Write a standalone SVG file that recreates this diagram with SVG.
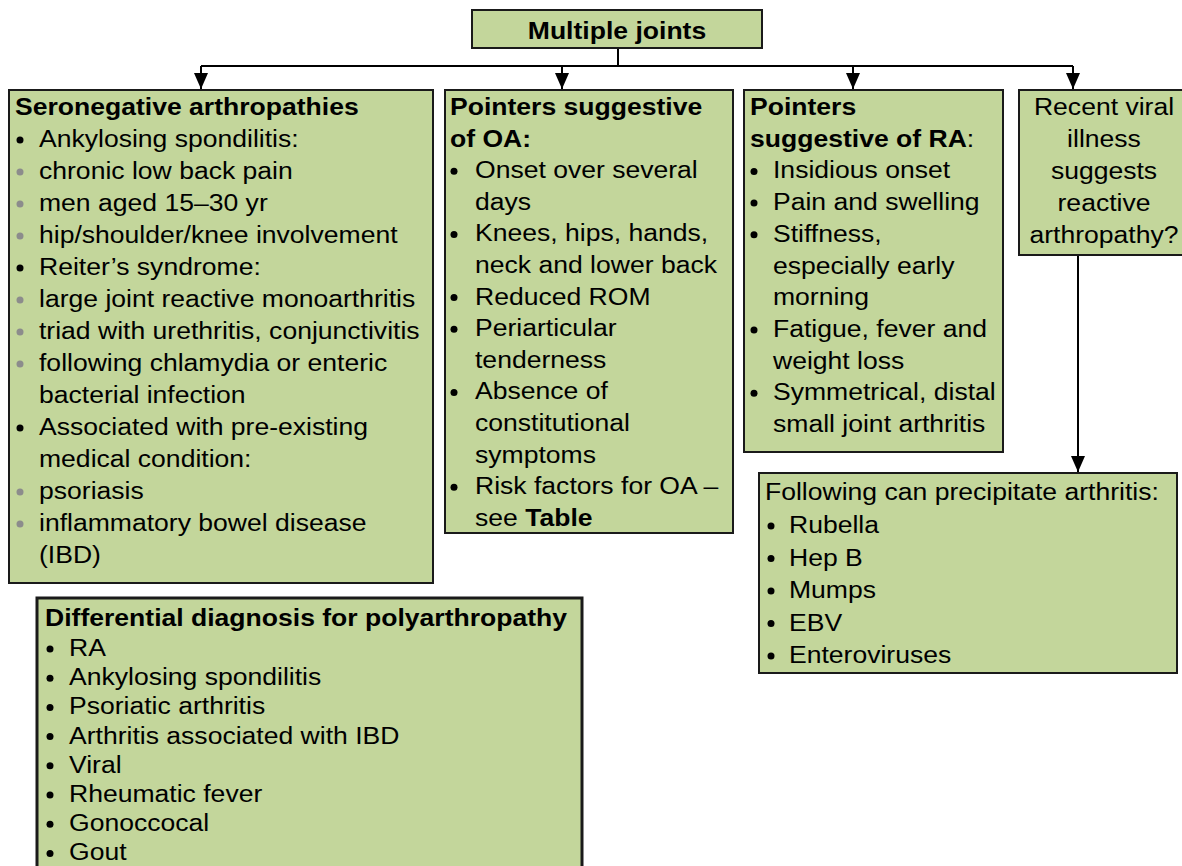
<svg xmlns="http://www.w3.org/2000/svg" width="1182" height="866" viewBox="0 0 1182 866">
<style>
.box{fill:#c3d69b;stroke:#1a1a1a;stroke-width:2}
.t{font-family:"Liberation Sans",Arial,sans-serif;font-size:23.5px;fill:#000}
.b{font-weight:bold}
.c{text-anchor:middle}
.bk{fill:#000}
.gy{fill:#8c8c8c}
.con{fill:none;stroke:#000;stroke-width:2}
</style>
<defs>
<marker id="ah" viewBox="0 0 16 14" refX="16" refY="7" markerWidth="16" markerHeight="14" orient="auto" markerUnits="userSpaceOnUse">
<path d="M0 0 L16 7 L0 14 Z" fill="#000"/>
</marker>
</defs>
<rect width="1182" height="866" fill="#fff"/>

<g id="connectors">
<path class="con" d="M618 48 V66 M201 66 H1073"/>
<path class="con" d="M201 66 V89" marker-end="url(#ah)"/>
<path class="con" d="M562 66 V89" marker-end="url(#ah)"/>
<path class="con" d="M853 66 V89" marker-end="url(#ah)"/>
<path class="con" d="M1073 66 V89" marker-end="url(#ah)"/>
<path class="con" d="M1078 255 V472" marker-end="url(#ah)"/>
</g>

<g id="multiple-joints">
<rect class="box" x="472" y="10" width="290" height="38"/>
<text class="t b c" transform="translate(617 39) scale(1.13 1)">Multiple joints</text>
</g>

<g id="seronegative">
<rect class="box" x="9" y="90" width="424" height="493"/>
<text class="t b" transform="translate(15 115) scale(1.13 1)">Seronegative arthropathies</text>
<circle class="bk" cx="20" cy="140" r="3.5"/>
<text class="t" transform="translate(39 147) scale(1.13 1)">Ankylosing spondilitis:</text>
<circle class="gy" cx="20" cy="172" r="3.5"/>
<text class="t" transform="translate(39 179) scale(1.13 1)">chronic low back pain</text>
<circle class="gy" cx="20" cy="204" r="3.5"/>
<text class="t" transform="translate(39 211) scale(1.13 1)">men aged 15–30 yr</text>
<circle class="gy" cx="20" cy="236" r="3.5"/>
<text class="t" transform="translate(39 243) scale(1.13 1)">hip/shoulder/knee involvement</text>
<circle class="bk" cx="20" cy="268" r="3.5"/>
<text class="t" transform="translate(39 275) scale(1.13 1)">Reiter’s syndrome:</text>
<circle class="gy" cx="20" cy="300" r="3.5"/>
<text class="t" transform="translate(39 307) scale(1.13 1)">large joint reactive monoarthritis</text>
<circle class="gy" cx="20" cy="332" r="3.5"/>
<text class="t" transform="translate(39 339) scale(1.13 1)">triad with urethritis, conjunctivitis</text>
<circle class="gy" cx="20" cy="364" r="3.5"/>
<text class="t" transform="translate(39 371) scale(1.13 1)">following chlamydia or enteric</text>
<text class="t" transform="translate(39 403) scale(1.13 1)">bacterial infection</text>
<circle class="bk" cx="20" cy="428" r="3.5"/>
<text class="t" transform="translate(39 435) scale(1.13 1)">Associated with pre-existing</text>
<text class="t" transform="translate(39 467) scale(1.13 1)">medical condition:</text>
<circle class="gy" cx="20" cy="492" r="3.5"/>
<text class="t" transform="translate(39 499) scale(1.13 1)">psoriasis</text>
<circle class="gy" cx="20" cy="524" r="3.5"/>
<text class="t" transform="translate(39 531) scale(1.13 1)">inflammatory bowel disease</text>
<text class="t" transform="translate(39 563) scale(1.13 1)">(IBD)</text>
</g>

<g id="oa">
<rect class="box" x="445" y="90" width="288" height="443"/>
<text class="t b" transform="translate(450 115) scale(1.13 1)">Pointers suggestive</text>
<text class="t b" transform="translate(450 146.6) scale(1.13 1)">of OA:</text>
<circle class="bk" cx="454" cy="171.2" r="3.5"/>
<text class="t" transform="translate(475 178.2) scale(1.13 1)">Onset over several</text>
<text class="t" transform="translate(475 209.8) scale(1.13 1)">days</text>
<circle class="bk" cx="454" cy="234.4" r="3.5"/>
<text class="t" transform="translate(475 241.4) scale(1.13 1)">Knees, hips, hands,</text>
<text class="t" transform="translate(475 273) scale(1.13 1)">neck and lower back</text>
<circle class="bk" cx="454" cy="297.6" r="3.5"/>
<text class="t" transform="translate(475 304.6) scale(1.13 1)">Reduced ROM</text>
<circle class="bk" cx="454" cy="329.2" r="3.5"/>
<text class="t" transform="translate(475 336.2) scale(1.13 1)">Periarticular</text>
<text class="t" transform="translate(475 367.8) scale(1.13 1)">tenderness</text>
<circle class="bk" cx="454" cy="392.4" r="3.5"/>
<text class="t" transform="translate(475 399.4) scale(1.13 1)">Absence of</text>
<text class="t" transform="translate(475 431) scale(1.13 1)">constitutional</text>
<text class="t" transform="translate(475 462.6) scale(1.13 1)">symptoms</text>
<circle class="bk" cx="454" cy="487.2" r="3.5"/>
<text class="t" transform="translate(475 494.2) scale(1.13 1)">Risk factors for OA –</text>
<text class="t" transform="translate(475 525.8) scale(1.13 1)">see <tspan class="b">Table</tspan></text>
</g>

<g id="ra">
<rect class="box" x="744" y="90" width="259" height="362"/>
<text class="t b" transform="translate(750 115) scale(1.13 1)">Pointers</text>
<text class="t" transform="translate(750 146.7) scale(1.13 1)"><tspan class="b">suggestive of RA</tspan>:</text>
<circle class="bk" cx="754" cy="171.4" r="3.5"/>
<text class="t" transform="translate(773 178.4) scale(1.13 1)">Insidious onset</text>
<circle class="bk" cx="754" cy="203.1" r="3.5"/>
<text class="t" transform="translate(773 210.1) scale(1.13 1)">Pain and swelling</text>
<circle class="bk" cx="754" cy="234.8" r="3.5"/>
<text class="t" transform="translate(773 241.8) scale(1.13 1)">Stiffness,</text>
<text class="t" transform="translate(773 273.5) scale(1.13 1)">especially early</text>
<text class="t" transform="translate(773 305.2) scale(1.13 1)">morning</text>
<circle class="bk" cx="754" cy="329.9" r="3.5"/>
<text class="t" transform="translate(773 336.9) scale(1.13 1)">Fatigue, fever and</text>
<text class="t" transform="translate(773 368.6) scale(1.13 1)">weight loss</text>
<circle class="bk" cx="754" cy="393.3" r="3.5"/>
<text class="t" transform="translate(773 400.3) scale(1.13 1)">Symmetrical, distal</text>
<text class="t" transform="translate(773 432) scale(1.13 1)">small joint arthritis</text>
</g>

<g id="viral">
<rect class="box" x="1019" y="90" width="172" height="165"/>
<text class="t c" transform="translate(1104 115) scale(1.13 1)">Recent viral</text>
<text class="t c" transform="translate(1104 147) scale(1.13 1)">illness</text>
<text class="t c" transform="translate(1104 179) scale(1.13 1)">suggests</text>
<text class="t c" transform="translate(1104 211) scale(1.13 1)">reactive</text>
<text class="t c" transform="translate(1104 243) scale(1.13 1)">arthropathy?</text>
</g>

<g id="precipitate">
<rect class="box" x="759" y="473" width="418" height="200"/>
<text class="t" transform="translate(765 500) scale(1.13 1)">Following can precipitate arthritis:</text>
<circle class="bk" cx="771" cy="526" r="3.5"/>
<text class="t" transform="translate(789 533) scale(1.13 1)">Rubella</text>
<circle class="bk" cx="771" cy="558.5" r="3.5"/>
<text class="t" transform="translate(789 565.5) scale(1.13 1)">Hep B</text>
<circle class="bk" cx="771" cy="591" r="3.5"/>
<text class="t" transform="translate(789 598) scale(1.13 1)">Mumps</text>
<circle class="bk" cx="771" cy="623.5" r="3.5"/>
<text class="t" transform="translate(789 630.5) scale(1.13 1)">EBV</text>
<circle class="bk" cx="771" cy="656" r="3.5"/>
<text class="t" transform="translate(789 663) scale(1.13 1)">Enteroviruses</text>
</g>

<g id="differential">
<rect class="box" x="37" y="598" width="545" height="290" style="stroke-width:3"/>
<text class="t b" transform="translate(45 626) scale(1.13 1)">Differential diagnosis for polyarthropathy</text>
<circle class="bk" cx="50" cy="649" r="3.5"/>
<text class="t" transform="translate(69 656) scale(1.13 1)">RA</text>
<circle class="bk" cx="50" cy="678.2" r="3.5"/>
<text class="t" transform="translate(69 685.2) scale(1.13 1)">Ankylosing spondilitis</text>
<circle class="bk" cx="50" cy="707.4" r="3.5"/>
<text class="t" transform="translate(69 714.4) scale(1.13 1)">Psoriatic arthritis</text>
<circle class="bk" cx="50" cy="736.6" r="3.5"/>
<text class="t" transform="translate(69 743.6) scale(1.13 1)">Arthritis associated with IBD</text>
<circle class="bk" cx="50" cy="765.8" r="3.5"/>
<text class="t" transform="translate(69 772.8) scale(1.13 1)">Viral</text>
<circle class="bk" cx="50" cy="795" r="3.5"/>
<text class="t" transform="translate(69 802) scale(1.13 1)">Rheumatic fever</text>
<circle class="bk" cx="50" cy="824.2" r="3.5"/>
<text class="t" transform="translate(69 831.2) scale(1.13 1)">Gonoccocal</text>
<circle class="bk" cx="50" cy="853.4" r="3.5"/>
<text class="t" transform="translate(69 860.4) scale(1.13 1)">Gout</text>
</g>
</svg>
